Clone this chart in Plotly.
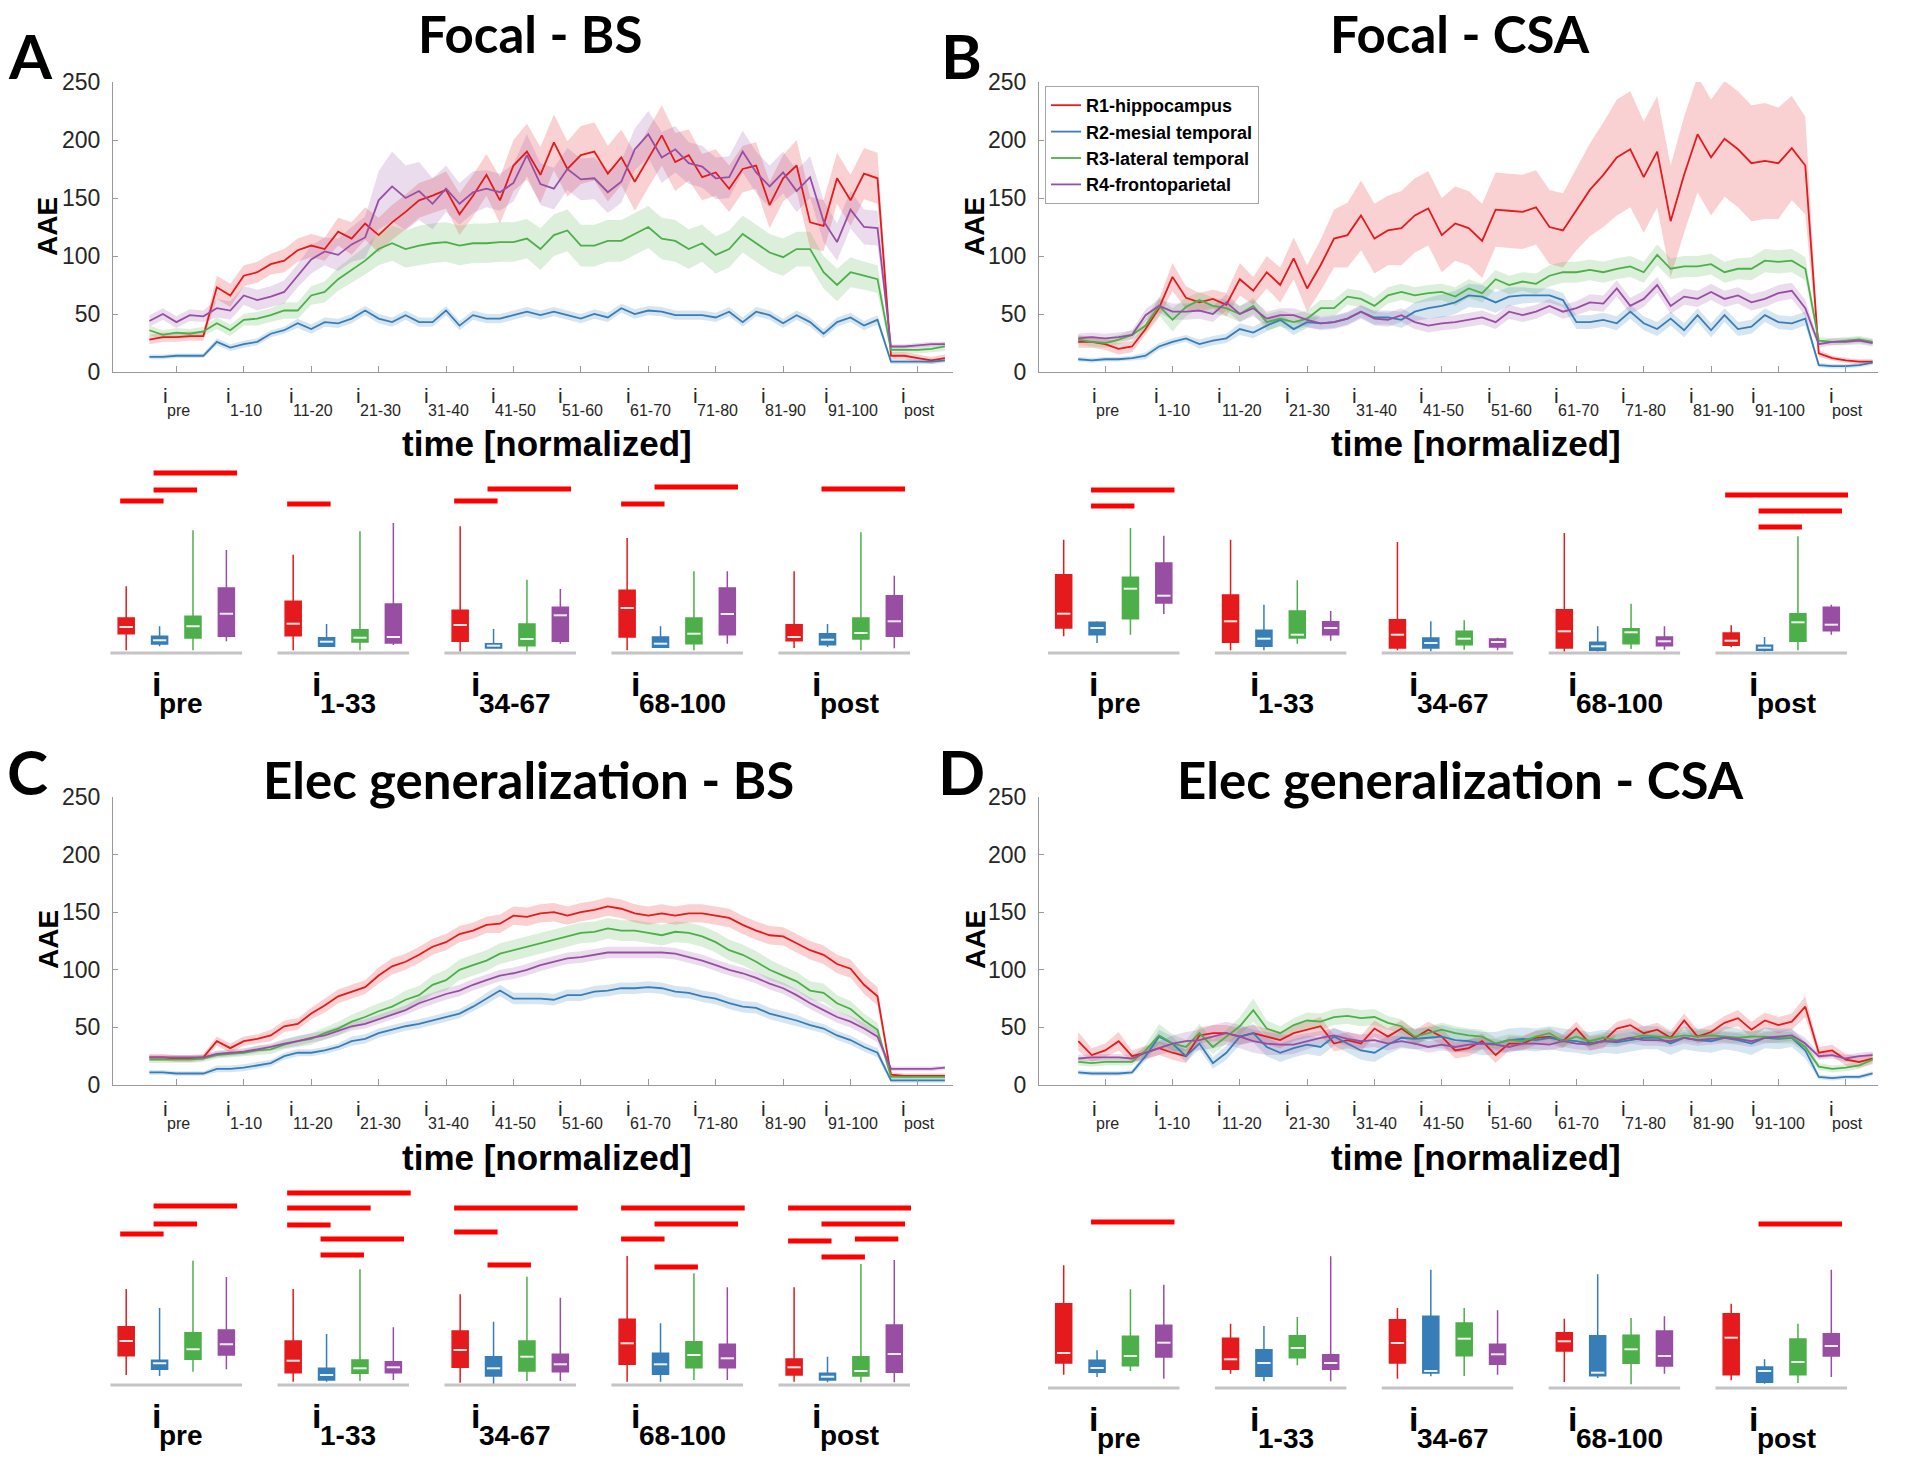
import plotly.graph_objects as go

W, H = 1920, 1462

# ---------------- categories / ticks ----------------
TIME = [-9, -7, -5, -3, -1] + list(range(1, 100, 2)) + [101, 103, 105, 107, 109]
TICK_POS = [-5, 5, 15, 25, 35, 45, 55, 65, 75, 85, 95, 105]
TICK_SUB = ["pre", "1-10", "11-20", "21-30", "31-40", "41-50", "51-60",
            "61-70", "71-80", "81-90", "91-100", "post"]
Y_TICKS = [0, 50, 100, 150, 200, 250]
REGIONS = ["R1-hippocampus", "R2-mesial temporal", "R3-lateral temporal", "R4-frontoparietal"]
GROUP_SUB = ["pre", "1-33", "34-67", "68-100", "post"]
TITLES = ["Focal - BS", "Focal - CSA", "Elec generalization - BS", "Elec generalization - CSA"]
LETTERS = ["A", "B", "C", "D"]

# ---------------- time courses (mean AAE) ----------------
A_R1 = [28, 30, 30, 31, 31] + [73, 66, 83, 86, 93, 96, 105, 109, 106, 121, 115, 128, 118, 129, 138, 148, 152, 157, 136, 152,
       170, 148, 178, 190, 170, 198, 175, 187, 190, 171, 185, 164, 184, 204, 181, 187, 168, 172, 158, 175,
       178, 144, 167, 178, 129, 126, 167, 148, 171, 167] + [14, 14, 12, 10, 12]
A_R2 = [13, 13, 14, 14, 14] + [26, 21, 24, 26, 33, 36, 42, 37, 43, 42, 46, 53, 46, 43, 49, 43, 43, 53, 40, 49,
       46, 46, 49, 52, 49, 52, 49, 46, 50, 47, 55, 50, 53, 52, 49, 49, 49, 47, 52, 43,
       52, 49, 42, 49, 43, 33, 43, 47, 40, 45] + [9, 9, 9, 9, 10]
A_R3 = [36, 32, 34, 33, 35] + [42, 36, 45, 46, 49, 53, 53, 66, 69, 80, 88, 96, 106, 111, 106, 109, 111, 112, 109, 111,
       111, 112, 112, 115, 106, 118, 122, 109, 109, 113, 113, 119, 125, 115, 113, 106, 111, 101, 106, 119,
       111, 103, 99, 106, 106, 86, 75, 86, 83, 80] + [19, 19, 19, 20, 22]
A_R4 = [44, 50, 43, 49, 48] + [55, 53, 66, 62, 65, 69, 83, 97, 104, 101, 110, 116, 148, 160, 150, 156, 145, 158, 145, 155,
       158, 155, 163, 187, 162, 158, 175, 166, 167, 155, 164, 192, 205, 185, 192, 180, 177, 167, 168, 190,
       172, 160, 172, 156, 168, 130, 112, 140, 125, 124] + [22, 22, 23, 24, 24]
A_R1_SEM = [4, 4, 4, 4, 4] + [10, 10, 9, 9, 9, 10, 10, 10, 10, 12, 14, 14, 15, 15, 15, 15, 15, 16, 18, 18,
           18, 20, 22, 24, 24, 24, 24, 25, 25, 24, 24, 25, 25, 26, 25, 22, 20, 20, 20, 20,
           20, 20, 20, 22, 22, 22, 22, 22, 22, 22] + [3, 3, 3, 3, 3]
A_R2_SEM = [2, 2, 2, 2, 2] + [3, 3, 3, 3, 3, 3, 4, 4, 4, 4, 4, 4, 4, 4, 4, 4, 4, 4, 4, 4,
           4, 4, 4, 4, 4, 4, 4, 4, 4, 4, 4, 4, 4, 4, 4, 4, 4, 4, 4, 4,
           4, 4, 4, 4, 4, 4, 4, 4, 4, 4] + [2, 2, 2, 2, 2]
A_R3_SEM = [4, 4, 4, 4, 4] + [5, 5, 5, 6, 6, 7, 7, 8, 9, 10, 11, 12, 14, 15, 16, 17, 17, 17, 17, 17,
           17, 17, 17, 17, 18, 18, 18, 18, 18, 18, 18, 18, 18, 18, 18, 17, 16, 16, 16, 16,
           16, 16, 16, 15, 15, 14, 14, 13, 12, 12] + [3, 3, 3, 3, 4]
A_R4_SEM = [5, 5, 5, 5, 5] + [8, 8, 8, 9, 9, 10, 10, 12, 12, 14, 15, 18, 25, 30, 28, 25, 22, 20, 18, 18,
           16, 16, 16, 18, 18, 18, 18, 18, 18, 18, 18, 18, 20, 22, 20, 18, 18, 18, 18, 18,
           18, 18, 18, 18, 18, 18, 16, 16, 15, 15] + [2, 2, 2, 2, 2]

B_R1 = [26, 26, 24, 20, 22] + [37, 55, 82, 64, 60, 63, 58, 80, 70, 86, 75, 98, 72, 92, 115, 118, 135, 115, 122, 124,
       135, 141, 118, 128, 124, 113, 140, 139, 138, 142, 125, 122, 140, 157, 170, 185, 192, 168, 190, 130,
       170, 205, 185, 201, 192, 180, 182, 180, 193, 178] + [16, 12, 10, 9, 9]
B_R2 = [11, 10, 11, 11, 12] + [14, 22, 26, 29, 24, 27, 29, 37, 34, 40, 45, 37, 43, 42, 43, 46, 52, 47, 47, 45,
       52, 55, 57, 60, 66, 65, 60, 65, 66, 66, 66, 62, 43, 43, 45, 42, 52, 42, 37, 46,
       36, 49, 36, 49, 37, 39, 49, 43, 42, 46] + [6, 5, 5, 6, 8]
B_R3 = [28, 26, 25, 28, 32] + [40, 57, 45, 56, 62, 57, 55, 50, 57, 43, 46, 43, 46, 55, 55, 65, 63, 57, 66, 69,
       66, 68, 69, 65, 72, 68, 80, 75, 78, 76, 83, 86, 86, 88, 86, 89, 91, 86, 101, 89,
       91, 91, 93, 86, 89, 89, 96, 95, 96, 89] + [27, 26, 27, 28, 26]
B_R4 = [29, 30, 29, 30, 32] + [49, 57, 52, 52, 53, 50, 60, 50, 55, 46, 49, 49, 45, 42, 43, 46, 52, 46, 45, 49,
       43, 40, 42, 43, 45, 47, 43, 52, 49, 52, 57, 52, 55, 60, 59, 72, 57, 63, 75, 57,
       65, 63, 69, 63, 66, 60, 63, 68, 70, 55] + [24, 26, 26, 27, 25]
B_R1_SEM = [5, 5, 5, 5, 5] + [5, 8, 12, 10, 8, 8, 10, 14, 12, 14, 15, 18, 20, 22, 25, 28, 30, 30, 30, 32,
           32, 32, 32, 32, 32, 32, 32, 32, 32, 32, 32, 32, 35, 40, 45, 50, 50, 48, 48, 48,
           50, 50, 50, 50, 50, 50, 50, 48, 45, 42] + [3, 2, 2, 2, 2]
B_R2_SEM = [2, 2, 2, 2, 2] + [3, 3, 3, 3, 4, 4, 4, 5, 5, 5, 5, 5, 5, 5, 5, 5, 5, 6, 6, 7,
           8, 9, 10, 10, 10, 10, 9, 8, 7, 6, 6, 6, 6, 6, 6, 6, 6, 6, 6, 6,
           6, 6, 6, 6, 6, 6, 6, 6, 6, 6] + [2, 2, 2, 2, 2]
B_R3_SEM = [4, 4, 4, 4, 4] + [6, 8, 10, 8, 7, 7, 7, 7, 7, 7, 7, 7, 7, 7, 7, 7, 7, 7, 7, 7,
           7, 7, 7, 8, 8, 8, 8, 8, 8, 9, 9, 9, 9, 9, 9, 9, 9, 9, 9, 9,
           9, 9, 9, 9, 9, 10, 10, 10, 10, 10] + [3, 3, 3, 3, 3]
B_R4_SEM = [4, 4, 4, 4, 4] + [5, 6, 7, 7, 7, 7, 7, 7, 7, 6, 6, 6, 6, 6, 6, 6, 6, 6, 6, 6,
           6, 6, 6, 6, 6, 6, 6, 6, 6, 6, 6, 6, 6, 7, 7, 7, 7, 7, 7, 7,
           7, 7, 7, 7, 7, 7, 7, 7, 7, 7] + [3, 3, 3, 3, 3]

C_R1 = [24, 24, 23, 23, 24] + [38, 32, 38, 40, 43, 51, 53, 62, 69, 77, 81, 85, 95, 103, 107, 113, 120, 124, 131, 134,
       139, 140, 147, 146, 149, 150, 147, 150, 152, 155, 153, 149, 147, 149, 147, 149, 149, 147, 145, 139,
       134, 130, 129, 123, 117, 113, 105, 101, 87, 77] + [9, 8, 8, 8, 8]
C_R2 = [11, 11, 10, 10, 10] + [14, 14, 15, 17, 19, 25, 28, 28, 30, 33, 38, 40, 45, 48, 51, 53, 56, 59, 62, 68,
       75, 82, 75, 75, 75, 74, 78, 78, 81, 82, 84, 84, 85, 84, 81, 80, 77, 75, 71, 68,
       67, 62, 59, 56, 52, 49, 43, 39, 33, 28] + [4, 4, 4, 4, 4]
C_R3 = [22, 22, 22, 22, 23] + [26, 27, 28, 30, 31, 35, 38, 40, 45, 49, 55, 59, 64, 68, 74, 78, 87, 91, 100, 104,
       108, 114, 117, 120, 123, 126, 129, 132, 133, 136, 134, 134, 132, 130, 133, 132, 129, 124, 117, 113,
       107, 100, 95, 90, 82, 80, 71, 66, 56, 48] + [7, 7, 7, 7, 7]
C_R4 = [24, 24, 24, 24, 24] + [27, 28, 29, 31, 33, 36, 38, 41, 43, 47, 51, 53, 57, 61, 65, 71, 75, 79, 82, 87,
       91, 95, 97, 100, 104, 107, 110, 111, 113, 115, 115, 115, 115, 115, 114, 111, 108, 104, 100, 97,
       93, 88, 84, 78, 71, 65, 59, 55, 49, 42] + [14, 14, 14, 14, 15]
C_R1_SEM = [3, 3, 3, 3, 3] + [4, 4, 4, 4, 5, 5, 5, 5, 6, 6, 6, 6, 7, 7, 7, 7, 7, 7, 7, 7,
           7, 8, 8, 8, 8, 8, 8, 8, 8, 8, 8, 8, 8, 8, 8, 8, 8, 8, 8, 8,
           8, 8, 8, 8, 8, 8, 8, 8, 8, 8] + [2, 2, 2, 2, 2]
C_R2_SEM = [2, 2, 2, 2, 2] + [3, 3, 3, 3, 3, 3, 3, 3, 3, 3, 4, 4, 4, 4, 4, 4, 4, 4, 4, 4,
           5, 5, 5, 5, 5, 5, 5, 5, 5, 5, 5, 5, 5, 5, 5, 5, 5, 5, 5, 5,
           5, 5, 5, 5, 4, 4, 4, 4, 4, 4] + [2, 2, 2, 2, 2]
C_R3_SEM = [3, 3, 3, 3, 3] + [3, 3, 3, 4, 4, 4, 5, 5, 5, 6, 6, 7, 7, 7, 8, 8, 8, 9, 9, 9,
           9, 9, 9, 9, 9, 9, 9, 9, 9, 9, 9, 9, 9, 9, 9, 9, 9, 9, 9, 9,
           9, 9, 8, 8, 8, 8, 7, 7, 6, 6] + [2, 2, 2, 2, 2]
C_R4_SEM = [2, 2, 2, 2, 2] + [3, 3, 3, 3, 3, 4, 4, 4, 4, 4, 4, 4, 4, 4, 4, 5, 5, 5, 5, 5,
           5, 5, 5, 5, 5, 5, 5, 5, 5, 5, 5, 5, 5, 5, 5, 5, 5, 5, 5, 5,
           5, 5, 5, 5, 5, 5, 5, 5, 5, 5] + [2, 2, 2, 2, 2]

D_R1 = [38, 26, 30, 38, 25] + [28, 32, 28, 25, 43, 45, 45, 42, 45, 42, 39, 45, 48, 51, 36, 39, 36, 49, 42, 49,
       41, 48, 42, 30, 32, 38, 26, 36, 36, 41, 42, 38, 49, 36, 38, 49, 52, 45, 48, 41,
       56, 42, 46, 54, 58, 48, 56, 52, 55, 68] + [28, 30, 22, 20, 23]
D_R2 = [11, 10, 10, 10, 11] + [25, 42, 36, 25, 36, 19, 28, 42, 45, 33, 28, 32, 35, 33, 42, 36, 30, 28, 35, 41,
       40, 41, 42, 39, 38, 36, 36, 39, 40, 39, 41, 39, 38, 36, 38, 37, 39, 41, 41, 36,
       41, 39, 38, 41, 39, 36, 41, 40, 41, 30] + [7, 6, 7, 7, 10]
D_R3 = [20, 19, 20, 20, 20] + [30, 43, 36, 33, 45, 33, 42, 51, 65, 49, 45, 52, 56, 55, 59, 60, 58, 59, 54, 51,
       42, 45, 48, 45, 43, 42, 36, 39, 38, 42, 45, 38, 42, 38, 41, 39, 41, 43, 42, 41,
       43, 42, 43, 42, 41, 42, 42, 41, 41, 33] + [16, 14, 15, 17, 22]
D_R4 = [23, 24, 24, 24, 23] + [28, 32, 36, 38, 39, 42, 45, 42, 38, 36, 35, 35, 38, 41, 43, 40, 38, 39, 36, 38,
       36, 33, 35, 33, 35, 36, 35, 33, 36, 36, 35, 38, 36, 35, 38, 38, 41, 39, 39, 38,
       41, 39, 40, 41, 40, 38, 41, 42, 43, 36] + [25, 26, 23, 25, 26]
D_R1_SEM = [8, 6, 6, 8, 5] + [6, 6, 6, 6, 7, 7, 7, 7, 7, 7, 7, 7, 7, 8, 7, 7, 7, 7, 7, 7,
           7, 7, 7, 7, 7, 7, 7, 6, 6, 6, 6, 6, 6, 6, 6, 6, 6, 6, 6, 6,
           6, 6, 6, 6, 7, 7, 7, 7, 7, 9] + [5, 5, 5, 5, 5]
D_R2_SEM = [2, 2, 2, 2, 2] + [4, 6, 6, 5, 5, 5, 6, 7, 8, 8, 8, 8, 8, 8, 8, 8, 8, 8, 8, 9,
           9, 9, 10, 10, 10, 10, 10, 10, 10, 10, 10, 10, 10, 10, 10, 10, 10, 10, 10, 10,
           10, 10, 10, 10, 10, 10, 9, 9, 8, 7] + [2, 2, 2, 2, 2]
D_R3_SEM = [3, 3, 3, 3, 3] + [5, 10, 8, 6, 8, 6, 6, 8, 10, 7, 6, 6, 7, 7, 7, 7, 7, 7, 6, 6,
           6, 6, 6, 6, 6, 6, 5, 5, 5, 5, 5, 5, 5, 5, 5, 5, 5, 5, 5, 5,
           5, 5, 5, 5, 5, 5, 5, 5, 5, 5] + [3, 3, 3, 3, 3]
D_R4_SEM = [3, 3, 3, 3, 3] + [5, 6, 7, 8, 9, 10, 10, 10, 10, 10, 9, 8, 7, 6, 6, 6, 6, 6, 6, 5,
           5, 5, 5, 5, 5, 5, 5, 5, 5, 5, 5, 5, 5, 5, 5, 5, 5, 5, 5, 5,
           5, 5, 5, 5, 5, 5, 5, 5, 5, 5] + [3, 3, 3, 3, 3]

# ---------------- box-plot summaries (rows = R1..R4, cols = pre,1-33,34-67,68-100,post) ----------------
A_LO = [[2.7, 2.7, 1.3, 2.7, 5], [6.7, 6, 4.5, 5, 6], [2.7, 2.7, 1.3, 2.7, 2.7], [11.7, 8, 9.3, 9.3, 4.7]]
A_Q1 = [[19.3, 17.3, 11.7, 16, 12.3], [9, 6.7, 5, 5.7, 8.3], [15, 11, 7.3, 9.3, 14], [16.7, 10, 11.7, 18.3, 16.7]]
A_MED = [[26, 29.3, 28, 45, 16], [12.7, 11.3, 7.3, 9.3, 13.3], [26.7, 15.3, 14, 19.3, 20], [39.3, 16, 37.7, 39, 31.7]]
A_Q3 = [[35, 51.7, 42.7, 62.7, 28.3], [16.7, 15.3, 9.3, 16, 19.3], [36.7, 23.3, 29, 35, 35], [65, 49, 45.7, 65, 57.3]]
A_HI = [[66.7, 98.3, 126.7, 115, 81.7], [26.7, 29, 24, 26.7, 29], [122.7, 121.7, 73.3, 81.7, 120.7], [103, 130, 64, 81.7, 77.3]]

B_LO = [[16.7, 2.7, 2.7, 1.3, 5.7], [10, 2.7, 1.7, 1.3, 1.3], [18.3, 9.3, 3.3, 4, 2.7], [39, 12.3, 2.7, 3.3, 18.3]]
B_Q1 = [[25, 10.7, 5, 5, 7.7], [18.3, 6.7, 5, 2.7, 2.7], [34.3, 15, 8.3, 9.3, 11.7], [50, 18.3, 6, 7.3, 22.3]]
B_MED = [[39.3, 31.7, 18.3, 21.7, 12.3], [25, 14.3, 10, 6.7, 5.3], [64.3, 18.3, 14.3, 20.7, 30.7], [57.3, 25, 11, 11.7, 28.3]]
B_Q3 = [[78.3, 58, 33.3, 43.3, 20], [30.7, 22.7, 15, 10.7, 7.7], [75.7, 42, 21.7, 24.3, 39.3], [90, 31.3, 14, 16, 45.7]]
B_HI = [[113.3, 113.3, 111, 120, 27.7], [31.7, 48.3, 31.7, 26.7, 16], [125, 72.7, 32.7, 49.3, 116.7], [117.3, 42, 15.3, 26.7, 48.3]]

C_LO = [[10, 3.3, 2.3, 3.3, 3.3], [9, 3.3, 1, 3.3, 2.7], [13.3, 4, 4, 5, 2.7], [15.7, 5, 4, 5, 2.7]]
C_Q1 = [[29.3, 12.3, 17.7, 20.7, 10], [15.7, 5, 9, 10.7, 5], [25.7, 11.7, 14, 17.3, 9], [30, 12.3, 13.3, 17.3, 12.7]]
C_MED = [[44, 24.3, 35, 41.7, 17.7], [21.7, 10, 16.7, 20.7, 8.3], [35.7, 16.7, 28.3, 30, 14], [40.7, 17.7, 20.7, 26.7, 31]]
C_Q3 = [[58.3, 44, 54, 65.7, 26], [24.7, 16.7, 28.3, 31.7, 11.7], [52.3, 25, 44, 43.3, 28.3], [55, 23.3, 30.7, 40.7, 60]]
C_HI = [[96, 96, 90.7, 129, 97.7], [77, 51, 63.3, 61.7, 28.3], [124.3, 115.7, 108.3, 111.7, 121], [108, 57.7, 87.3, 97.7, 125]]

D_LO = [[13.3, 14.3, 9.3, 6, 7.7], [11, 6.7, 11.7, 10, 4.3], [17, 22.7, 12, 3.7, 5], [9.3, 6.7, 13.3, 14.3, 11]]
D_Q1 = [[25, 18.7, 25, 37, 13.3], [15.7, 11.7, 15, 12.3, 5.7], [22.3, 30.3, 32.3, 24.7, 13.3], [31, 18.7, 23.7, 22, 32]]
D_MED = [[35, 28.7, 45, 46.7, 50.3], [20, 25, 17, 15.3, 17], [32, 40, 49.3, 38.7, 26], [45.3, 25, 33.7, 32, 42]]
D_Q3 = [[84.3, 49.7, 68.3, 55.3, 74.3], [27.7, 38.3, 71.7, 52.3, 21], [51.7, 52.3, 65, 52.7, 49], [62.7, 33.3, 43.7, 57, 54.3]]
D_HI = [[122.7, 64.3, 80, 69.3, 84.3], [37.7, 62, 118.3, 113.7, 28.7], [98.7, 71, 80, 70, 64.3], [103.3, 131.7, 77.7, 71.7, 118.3]]

# ---------------- significance bars (group, region from, region to, level) ----------------
A_SIG_GROUP = [0, 0, 0, 1, 2, 2, 3, 3, 4]
A_SIG_FROM = [0, 1, 1, 0, 0, 1, 0, 1, 1]
A_SIG_TO = [1, 2, 3, 1, 1, 3, 1, 3, 3]
A_SIG_LEVEL = [152, 163, 180, 149, 152, 164, 149, 166, 164]
B_SIG_GROUP = [0, 0, 4, 4, 4]
B_SIG_FROM = [1, 1, 0, 1, 1]
B_SIG_TO = [3, 2, 3, 3, 2]
B_SIG_LEVEL = [163, 147, 158, 142, 126]
C_SIG_GROUP = [0, 0, 0, 1, 1, 1, 1, 1, 2, 2, 2, 3, 3, 3, 3, 4, 4, 4, 4, 4]
C_SIG_FROM = [0, 1, 1, 0, 0, 0, 1, 1, 0, 0, 1, 0, 1, 0, 1, 0, 1, 0, 2, 1]
C_SIG_TO = [1, 2, 3, 3, 2, 1, 3, 2, 3, 1, 2, 3, 3, 1, 2, 3, 3, 1, 3, 2]
C_SIG_LEVEL = [151, 161, 179, 192, 177, 160, 146, 130, 177, 153, 120, 177, 161, 146, 118, 177, 161, 144, 146, 128]
D_SIG_GROUP = [0, 4]
D_SIG_FROM = [1, 1]
D_SIG_TO = [3, 3]
D_SIG_LEVEL = [166, 164]

# ---------------- styling ----------------
COLORS = ["#E41A1C", "#377EB8", "#4DAF4A", "#984EA3"]
BAND_RGBA = ["rgba(228,26,28,0.2)", "rgba(55,126,184,0.2)", "rgba(77,175,74,0.2)", "rgba(152,78,163,0.2)"]
FONT_T = "Lato, 'Open Sans', sans-serif"
FONT_A = "'Liberation Sans', Arial, sans-serif"
TXT = "#262626"
AXC = "#9a9a9a"

PANELS = [
    dict(series=[A_R1, A_R2, A_R3, A_R4], sems=[A_R1_SEM, A_R2_SEM, A_R3_SEM, A_R4_SEM],
         box=[A_LO, A_Q1, A_MED, A_Q3, A_HI], sig=[A_SIG_GROUP, A_SIG_FROM, A_SIG_TO, A_SIG_LEVEL]),
    dict(series=[B_R1, B_R2, B_R3, B_R4], sems=[B_R1_SEM, B_R2_SEM, B_R3_SEM, B_R4_SEM],
         box=[B_LO, B_Q1, B_MED, B_Q3, B_HI], sig=[B_SIG_GROUP, B_SIG_FROM, B_SIG_TO, B_SIG_LEVEL]),
    dict(series=[C_R1, C_R2, C_R3, C_R4], sems=[C_R1_SEM, C_R2_SEM, C_R3_SEM, C_R4_SEM],
         box=[C_LO, C_Q1, C_MED, C_Q3, C_HI], sig=[C_SIG_GROUP, C_SIG_FROM, C_SIG_TO, C_SIG_LEVEL]),
    dict(series=[D_R1, D_R2, D_R3, D_R4], sems=[D_R1_SEM, D_R2_SEM, D_R3_SEM, D_R4_SEM],
         box=[D_LO, D_Q1, D_MED, D_Q3, D_HI], sig=[D_SIG_GROUP, D_SIG_FROM, D_SIG_TO, D_SIG_LEVEL]),
]

# geometry in pixels (x0, x1, ytop, ybottom); title=(x, top-of-box y or centre y)
GEOM = [
    dict(line=(113, 953, 82, 372), xr=(-14.4, 110.2), box=(109.5, 911, 456, 656),
         letter=(30, 55), title=(530, 1, "top"), xtitle=(547, 443), ytitle=(48, 227)),
    dict(line=(1039, 1878, 82, 372), xr=(-14.83, 109.8), box=(1047, 1848, 456, 656),
         letter=(961, 55), title=(1460, 1, "top"), xtitle=(1476, 443), ytitle=(975, 227)),
    dict(line=(113, 953, 797, 1085), xr=(-14.4, 110.2), box=(109.5, 911, 1188, 1388),
         letter=(27, 771), title=(528, 779, "middle"), xtitle=(547, 1157), ytitle=(48, 940)),
    dict(line=(1039, 1878, 797, 1085), xr=(-14.83, 109.8), box=(1047, 1848, 1191, 1391),
         letter=(961, 771), title=(1460, 779, "middle"), xtitle=(1476, 1157), ytitle=(975, 940)),
]

CW = {'-': .333, 'p': .556, 'r': .333, 'e': .556, 'o': .556, 's': .5, 't': .278}
CWB = {'-': .333, 'p': .611, 'r': .389, 'e': .556, 'o': .611, 's': .556, 't': .333}


def text_w(s, size, bold=False):
    tbl = CWB if bold else CW
    return sum(tbl.get(c, .556) for c in s) * size


def fx(p):
    return p / W


def fy(p):
    return 1 - p / H


def ax_ref(n):
    return ("x" if n == 1 else f"x{n}"), ("y" if n == 1 else f"y{n}")


fig = go.Figure()
layout = dict(width=W, height=H, margin=dict(l=0, r=0, t=0, b=0, pad=0, autoexpand=False),
              paper_bgcolor="white", plot_bgcolor="white", boxmode="overlay",
              showlegend=True)
annotations = []

for i, (P, G) in enumerate(zip(PANELS, GEOM)):
    nl, nb = i + 1, i + 5
    xl, yl = ax_ref(nl)
    xb, yb = ax_ref(nb)
    lx0, lx1, lyt, lyb = G["line"]
    bx0, bx1, byt, byb = G["box"]

    for s in P["series"] + P["sems"]:
        assert len(s) == len(TIME), len(s)

    # bands
    for k in range(4):
        m, e = P["series"][k], P["sems"][k]
        up = [a + b for a, b in zip(m, e)]
        lo = [a - b for a, b in zip(m, e)]
        fig.add_trace(go.Scatter(x=TIME + TIME[::-1], y=up + lo[::-1], fill="toself",
                                 fillcolor=BAND_RGBA[k], line=dict(width=0), mode="lines",
                                 hoverinfo="skip", showlegend=False, xaxis=xl, yaxis=yl))
    # mean lines
    for k in range(4):
        fig.add_trace(go.Scatter(x=TIME, y=P["series"][k], mode="lines", name=REGIONS[k],
                                 line=dict(color=COLORS[k], width=1.8),
                                 showlegend=(i == 1), xaxis=xl, yaxis=yl))

    # line axes
    layout["xaxis" if nl == 1 else f"xaxis{nl}"] = dict(
        domain=[fx(lx0), fx(lx1)], range=list(G["xr"]), anchor=yl,
        tickvals=TICK_POS, showticklabels=False, ticks="inside", ticklen=6,
        tickcolor=AXC, showline=True, linecolor=AXC, linewidth=1.2,
        showgrid=False, zeroline=False, automargin=False)
    layout["yaxis" if nl == 1 else f"yaxis{nl}"] = dict(
        domain=[fy(lyb), fy(lyt)], range=[0, 250], anchor=xl,
        tickvals=Y_TICKS, ticks="inside", ticklen=5, tickcolor=AXC,
        showline=True, linecolor=AXC, linewidth=1.2, showgrid=False, zeroline=False,
        tickfont=dict(family=FONT_A, size=23, color=TXT), ticklabelstandoff=7, automargin=False)

    # tick labels i_sub
    ydom = f"{yl} domain"
    for pos, sub in zip(TICK_POS, TICK_SUB):
        w = text_w(sub, 16)
        annotations.append(dict(x=pos, xref=xl, y=0, yref=ydom, text=sub, showarrow=False,
                                xanchor="center", yanchor="top", xshift=2, yshift=-28,
                                font=dict(family=FONT_A, size=16, color=TXT)))
        annotations.append(dict(x=pos, xref=xl, y=0, yref=ydom, text="i", showarrow=False,
                                xanchor="right", yanchor="top", xshift=2 - w / 2 + 3, yshift=-10,
                                font=dict(family=FONT_A, size=21, color=TXT)))

    # box axes
    layout["xaxis" if nb == 1 else f"xaxis{nb}"] = dict(
        domain=[fx(bx0), fx(bx1)], range=[-0.5, 23.5], anchor=yb, visible=False)
    layout["yaxis" if nb == 1 else f"yaxis{nb}"] = dict(
        domain=[fy(byb), fy(byt)], range=[-3, 197], anchor=xb, visible=False)

    # baselines
    bxs, bys = [], []
    for g in range(5):
        bxs += [5 * g - 0.47, 5 * g + 3.47, None]
        bys += [0, 0, None]
    fig.add_trace(go.Scatter(x=bxs, y=bys, mode="lines", line=dict(color="#c4c4c4", width=3),
                             hoverinfo="skip", showlegend=False, xaxis=xb, yaxis=yb))

    LO, Q1, MED, Q3, HI = P["box"]
    for k in range(4):
        fig.add_trace(go.Box(x=[5 * g + k for g in range(5)], lowerfence=LO[k], q1=Q1[k],
                             median=MED[k], q3=Q3[k], upperfence=HI[k], width=0.48,
                             whiskerwidth=0, boxpoints=False, fillcolor=COLORS[k],
                             line=dict(color=COLORS[k], width=1.5), hoverinfo="skip",
                             showlegend=False, xaxis=xb, yaxis=yb))
    mxs, mys = [], []
    for k in range(4):
        for g in range(5):
            c = 5 * g + k
            mxs += [c - 0.2, c + 0.2, None]
            mys += [MED[k][g], MED[k][g], None]
    fig.add_trace(go.Scatter(x=mxs, y=mys, mode="lines", line=dict(color="rgba(255,255,255,0.9)", width=2),
                             hoverinfo="skip", showlegend=False, xaxis=xb, yaxis=yb))

    # significance bars
    sg, sf, st, sl = P["sig"]
    sxs, sys_ = [], []
    for g, a, b, lev in zip(sg, sf, st, sl):
        start = 5 * g + a - 0.18
        sxs += [start, start + 1.2 * (b - a) + 0.1, None]
        sys_ += [lev, lev, None]
    fig.add_trace(go.Scatter(x=sxs, y=sys_, mode="lines", line=dict(color="#ff0000", width=5),
                             hoverinfo="skip", showlegend=False, xaxis=xb, yaxis=yb))

    # group labels
    for g, sub in enumerate(GROUP_SUB):
        w = text_w(sub, 28, bold=True)
        annotations.append(dict(x=5 * g + 1.5, xref=xb, y=0, yref=yb, text=sub, showarrow=False,
                                xanchor="center", yanchor="top", xshift=5, yshift=-33,
                                font=dict(family=FONT_A, size=28, color="black", weight="bold")))
        annotations.append(dict(x=5 * g + 1.5, xref=xb, y=0, yref=yb, text="i", showarrow=False,
                                xanchor="right", yanchor="top", xshift=5 - w / 2 + 3, yshift=-10,
                                font=dict(family=FONT_A, size=34, color="black", weight="bold")))

    # texts
    annotations.append(dict(x=fx(G["letter"][0]), y=fy(G["letter"][1]), xref="paper", yref="paper",
                            text=LETTERS[i], showarrow=False, xanchor="center", yanchor="middle",
                            font=dict(family=FONT_T, size=62, color="black", weight="bold")))
    tx, ty, tanc = G["title"]
    annotations.append(dict(x=fx(tx), y=fy(ty), xref="paper", yref="paper",
                            text=TITLES[i], showarrow=False, xanchor="center", yanchor=tanc,
                            font=dict(family=FONT_T, size=51, color="black", weight="bold")))
    annotations.append(dict(x=fx(G["xtitle"][0]), y=fy(G["xtitle"][1]), xref="paper", yref="paper",
                            text="time [normalized]", showarrow=False, xanchor="center", yanchor="middle",
                            font=dict(family=FONT_A, size=35, color="black", weight="bold")))
    annotations.append(dict(x=fx(G["ytitle"][0]), y=fy(G["ytitle"][1]), xref="paper", yref="paper",
                            text="AAE", showarrow=False, xanchor="center", yanchor="middle", textangle=-90,
                            font=dict(family=FONT_A, size=28, color="black", weight="bold")))

layout["annotations"] = annotations
layout["legend"] = dict(x=fx(1045), y=fy(86), xanchor="left", yanchor="top", bgcolor="white",
                        bordercolor="#a6a6a6", borderwidth=1, tracegroupgap=0, itemwidth=30,
                        font=dict(family=FONT_A, size=18, color="black", weight="bold"))
fig.update_layout(**layout)
fig.write_html("out.html", config={"displayModeBar": False},
               post_script="document.body.style.margin='0px';")
